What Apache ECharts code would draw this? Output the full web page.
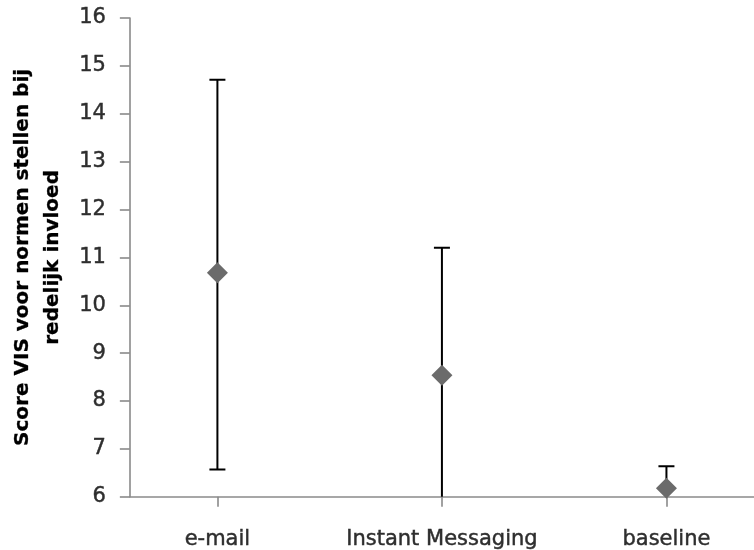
<!DOCTYPE html>
<html>
<head>
<meta charset="utf-8">
<script src="https://cdn.jsdelivr.net/npm/echarts@6/dist/echarts.min.js"></script>
<style>
  html, body { margin: 0; padding: 0; background: #fff; }
  #chart { width: 754px; height: 550px; }
</style>
</head>
<body>
<div id="chart"></div>
<script>
// Groups on the horizontal axis
const categories = ['e-mail', 'Instant Messaging', 'baseline'];
// Mean score per group
const means = [10.68, 8.54, 6.18];
// Lower and upper ends of the error bars
const lowerBounds = [6.57, 5.88, 5.72];
const upperBounds = [14.71, 11.20, 6.64];
// Value-axis ticks
const yTicks = [6, 7, 8, 9, 10, 11, 12, 13, 14, 15, 16];

const positions = categories.map((_, i) => i + 1);
const meanData = positions.map((x, i) => [x, means[i]]);
const barData = positions.map((x, i) => [x, lowerBounds[i], upperBounds[i]]);

const chart = echarts.init(document.getElementById('chart'), null, { renderer: 'canvas' });

const axisGray = '#8a8a8a';
const labelFont = {
  fontFamily: 'DejaVu Sans',
  fontSize: 21,
  color: '#2e2e2e',
  textBorderColor: '#2e2e2e',
  textBorderWidth: 0.45
};

chart.setOption({
  animation: false,
  backgroundColor: '#ffffff',
  grid: { left: 128, right: 0, top: 18, bottom: 52, containLabel: false },
  xAxis: {
    type: 'value',
    min: 0.61,
    max: 3.39,
    splitLine: { show: false },
    axisLine: { show: true, lineStyle: { color: axisGray, width: 1.6 } },
    axisTick: { show: true, length: 10, customValues: positions, lineStyle: { color: axisGray, width: 1.6 } },
    axisLabel: {
      show: true,
      customValues: positions,
      margin: 32,
      formatter: v => categories[Math.round(v) - 1] || '',
      ...labelFont
    }
  },
  yAxis: {
    type: 'value',
    min: yTicks[0],
    max: yTicks[yTicks.length - 1],
    interval: 1,
    splitLine: { show: false },
    axisLine: { show: true, lineStyle: { color: axisGray, width: 1.6 } },
    axisTick: { show: true, length: 10, lineStyle: { color: axisGray, width: 1.6 } },
    axisLabel: { margin: 24, ...labelFont },
    name: 'Score VIS voor normen stellen bij\nredelijk invloed',
    nameLocation: 'middle',
    nameGap: 59,
    nameRotate: 90,
    nameTextStyle: {
      fontFamily: 'DejaVu Sans',
      fontWeight: 'bold',
      fontSize: 20,
      lineHeight: 30,
      color: '#000000',
      textBorderColor: '#000000',
      textBorderWidth: 0.3,
      align: 'center'
    }
  },
  series: [
    {
      type: 'custom',
      clip: true,
      z: 2,
      data: barData,
      renderItem: function (params, api) {
        const x = api.value(0);
        const lo = api.coord([x, api.value(1)]);
        const hi = api.coord([x, api.value(2)]);
        const half = 8;
        const style = { stroke: '#000000', lineWidth: 2 };
        return {
          type: 'group',
          children: [
            { type: 'line', shape: { x1: lo[0], y1: lo[1], x2: hi[0], y2: hi[1] }, style },
            { type: 'line', shape: { x1: hi[0] - half, y1: hi[1], x2: hi[0] + half, y2: hi[1] }, style },
            { type: 'line', shape: { x1: lo[0] - half, y1: lo[1], x2: lo[0] + half, y2: lo[1] }, style }
          ]
        };
      }
    },
    {
      type: 'scatter',
      z: 3,
      symbol: 'diamond',
      symbolSize: [21, 21],
      itemStyle: { color: '#6b6b6b', opacity: 1 },
      data: meanData
    }
  ]
});
</script>
</body>
</html>
